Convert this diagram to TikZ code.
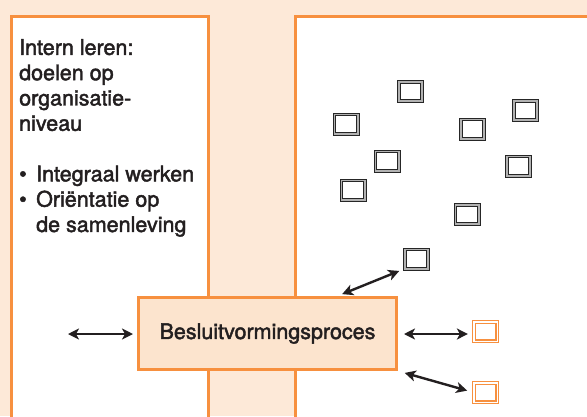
\documentclass[tikz,border=0pt]{standalone}
\usepackage{fontspec}
\setmainfont{TeX Gyre Heros}
\newfontfamily\medfont[FakeBold=2]{TeX Gyre Heros}
\usetikzlibrary{arrows.meta,calc}
\definecolor{peach}{HTML}{FDE9D8}
\definecolor{boxpeach}{HTML}{FCE4CE}
\definecolor{orng}{HTML}{F7903F}
\definecolor{ink}{HTML}{231F20}
\tikzset{
  panel/.style={draw=orng, line width=3pt},
  gsq/.style={draw=black!85, line width=1pt, double=black!30, double distance=1.6pt, fill=white,
    minimum width=23.4pt, minimum height=19.4pt, inner sep=0pt, outer sep=0pt},
  osq/.style={draw=orng, line width=1.3pt, double=white, double distance=1.2pt, fill=white,
    minimum width=23.2pt, minimum height=19.2pt, inner sep=0pt, outer sep=0pt},
  arr/.style={{Stealth[length=11pt,width=11pt,inset=3pt]}-{Stealth[length=11pt,width=11pt,inset=3pt]}, line width=2.4pt, draw=ink},
  txt/.style={text=ink, font=\medfont\fontsize{21.5}{25.3}\selectfont},
}
\begin{document}
\begin{tikzpicture}[x=1pt,y=-1pt]
\useasboundingbox (0,0) rectangle (587,416);
\fill[peach] (0,0) rectangle (587,416);
% panels
\fill[white] (11.5,16.5) rectangle (208.5,430);
\fill[white] (295.5,16.5) rectangle (600,430);
\draw[panel] (11.5,430) -- (11.5,16.5) -- (208.5,16.5) -- (208.5,430);
\draw[panel] (295.5,430) -- (295.5,16.5) -- (600,16.5);
% left text
\node[txt, anchor=north west, inner sep=0pt, align=left] (intern) at (19,39)
  {Intern leren:\\doelen op\\organisatie-\\niveau\\[25.3pt]
   \makebox[17pt][l]{\textbullet}Integraal werken\\
   \makebox[17pt][l]{\textbullet}Oriëntatie op\\
   \hspace*{17pt}de samenleving};
% central box
\node[draw=orng, line width=3pt, fill=boxpeach, minimum width=258pt, minimum height=72pt,
  inner sep=0pt, txt] (box) at (267.5,333.5) {Besluitvormingsproces};
% grey squares
\node[gsq] (s1) at (410.5,91.5) {};
\node[gsq] (s2) at (346,124) {};
\node[gsq] (s3) at (472.5,129) {};
\node[gsq] (s4) at (525.5,110.5) {};
\node[gsq] (s5) at (387,161) {};
\node[gsq] (s6) at (518.5,166) {};
\node[gsq] (s7) at (353,190) {};
\node[gsq] (s8) at (467,214.5) {};
\node[gsq] (s9) at (416.5,259) {};
% orange squares
\node[osq] (o1) at (485.5,331.5) {};
\node[osq] (o2) at (485.5,392.5) {};
% arrows
\coordinate (lend) at (68,334);
\draw[arr, shorten >=4pt] (lend) -- (box.west |- lend);
\draw[arr, shorten <=6pt, shorten >=6pt] (box.east |- lend) -- (o1.west |- lend);
\draw[arr, shorten <=6pt, shorten >=5pt] (s9.south west) -- ([xshift=70pt]box.north);
\draw[arr, shorten <=7pt, shorten >=7pt] (box.south east) -- (o2.west);
\end{tikzpicture}
\end{document}
